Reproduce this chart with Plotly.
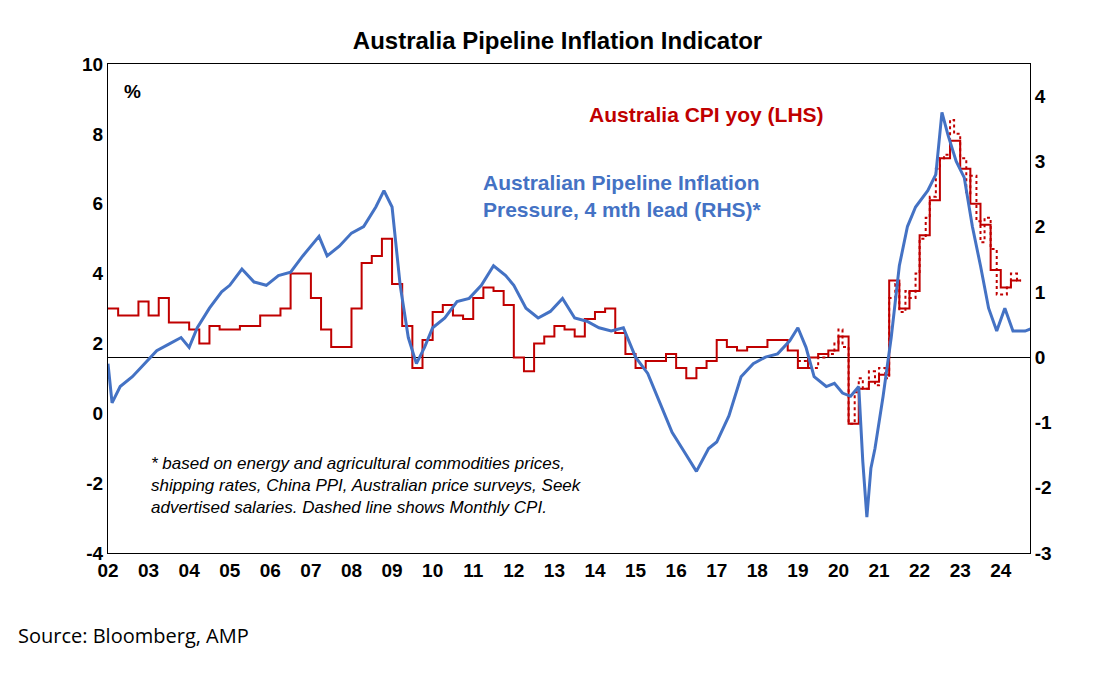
import plotly.graph_objects as go

# Quarterly CPI yoy (LHS), step line
cpi_x = [2002.0, 2002.25, 2002.5, 2002.75, 2003.0, 2003.25, 2003.5, 2003.75, 2004.0, 2004.25, 2004.5, 2004.75,
         2005.0, 2005.25, 2005.5, 2005.75, 2006.0, 2006.25, 2006.5, 2006.75, 2007.0, 2007.25, 2007.5, 2007.75,
         2008.0, 2008.25, 2008.5, 2008.75, 2009.0, 2009.25, 2009.5, 2009.75, 2010.0, 2010.25, 2010.5, 2010.75,
         2011.0, 2011.25, 2011.5, 2011.75, 2012.0, 2012.25, 2012.5, 2012.75, 2013.0, 2013.25, 2013.5, 2013.75,
         2014.0, 2014.25, 2014.5, 2014.75, 2015.0, 2015.25, 2015.5, 2015.75, 2016.0, 2016.25, 2016.5, 2016.75,
         2017.0, 2017.25, 2017.5, 2017.75, 2018.0, 2018.25, 2018.5, 2018.75, 2019.0, 2019.25, 2019.5, 2019.75,
         2020.0, 2020.25, 2020.5, 2020.75, 2021.0, 2021.25, 2021.5, 2021.75, 2022.0, 2022.25, 2022.5, 2022.75,
         2023.0, 2023.25, 2023.5, 2023.75, 2024.0, 2024.25, 2024.5]
cpi_y = [3.0, 2.8, 2.8, 3.2, 2.8, 3.3, 2.6, 2.6, 2.4, 2.0, 2.5, 2.4,
         2.4, 2.5, 2.5, 2.8, 2.8, 3.0, 4.0, 4.0, 3.3, 2.4, 1.9, 1.9,
         3.0, 4.3, 4.5, 5.0, 3.7, 2.5, 1.3, 2.1, 2.9, 3.1, 2.8, 2.7,
         3.3, 3.6, 3.5, 3.1, 1.6, 1.2, 2.0, 2.2, 2.5, 2.4, 2.2, 2.7,
         2.9, 3.0, 2.3, 1.7, 1.3, 1.5, 1.5, 1.7, 1.3, 1.0, 1.3, 1.5,
         2.1, 1.9, 1.8, 1.9, 1.9, 2.1, 2.1, 1.8, 1.3, 1.6, 1.7, 1.8,
         2.2, -0.3, 0.7, 0.9, 1.1, 3.8, 3.0, 3.5, 5.1, 6.1, 7.3, 7.8,
         7.0, 6.0, 5.4, 4.1, 3.6, 3.8, 3.8]

# Monthly CPI (LHS), dashed
mcpi_x = [2019.0, 2019.25, 2019.5, 2019.75, 2019.9, 2020.0, 2020.1, 2020.25, 2020.4, 2020.5, 2020.6, 2020.75,
          2020.9, 2021.0, 2021.15, 2021.25, 2021.4, 2021.5, 2021.65, 2021.75, 2021.9, 2022.0, 2022.15, 2022.25,
          2022.4, 2022.5, 2022.6, 2022.75, 2022.85, 2023.0, 2023.15, 2023.25, 2023.4, 2023.5, 2023.6, 2023.75,
          2023.9, 2024.0, 2024.15, 2024.25, 2024.4, 2024.5]
mcpi_y = [1.5, 1.3, 1.6, 1.7, 2.0, 2.4, 1.9, -0.3, 0.6, 1.0, 0.7, 1.2,
          0.8, 1.3, 1.0, 3.3, 3.7, 2.9, 3.5, 3.3, 4.0, 5.0, 5.6, 6.2,
          7.0, 7.3, 7.4, 8.4, 8.0, 7.3, 6.3, 6.8, 5.5, 4.9, 5.6, 4.7,
          3.4, 3.4, 3.6, 4.0, 3.8, 3.8]

# Pipeline inflation pressure (RHS), 4 mth lead
pipe_x = [2002.0, 2002.1, 2002.3, 2002.6, 2002.9, 2003.2, 2003.5, 2003.8, 2004.0, 2004.2, 2004.5, 2004.8,
          2005.0, 2005.3, 2005.6, 2005.9, 2006.2, 2006.5, 2006.8, 2007.0, 2007.2, 2007.4, 2007.7, 2008.0,
          2008.3, 2008.6, 2008.8, 2009.0, 2009.2, 2009.4, 2009.6, 2009.8, 2010.0, 2010.3, 2010.6, 2010.9,
          2011.2, 2011.5, 2011.8, 2012.0, 2012.3, 2012.6, 2012.9, 2013.2, 2013.5, 2013.8, 2014.1, 2014.4,
          2014.7, 2015.0, 2015.3, 2015.6, 2015.9, 2016.2, 2016.5, 2016.8, 2017.0, 2017.3, 2017.6, 2017.9,
          2018.2, 2018.5, 2018.8, 2019.0, 2019.2, 2019.4, 2019.7, 2019.9, 2020.1, 2020.3, 2020.5, 2020.6,
          2020.7, 2020.8, 2020.9, 2021.1, 2021.3, 2021.5, 2021.7, 2021.9, 2022.2, 2022.4, 2022.55, 2022.7,
          2022.9, 2023.1, 2023.3, 2023.5, 2023.7, 2023.9, 2024.1, 2024.3, 2024.6, 2024.8, 2024.9]
pipe_y = [-0.1, -0.7, -0.45, -0.3, -0.1, 0.1, 0.2, 0.3, 0.15, 0.45, 0.75, 1.0,
          1.1, 1.35, 1.15, 1.1, 1.25, 1.3, 1.55, 1.7, 1.85, 1.55, 1.7, 1.9,
          2.0, 2.3, 2.55, 2.3, 1.1, 0.3, -0.1, 0.15, 0.45, 0.6, 0.85, 0.9,
          1.1, 1.4, 1.25, 1.1, 0.75, 0.6, 0.7, 0.9, 0.6, 0.55, 0.45, 0.4,
          0.45, 0.0, -0.25, -0.7, -1.15, -1.45, -1.75, -1.4, -1.3, -0.9, -0.3, -0.1,
          0.0, 0.05, 0.25, 0.45, 0.15, -0.3, -0.45, -0.4, -0.55, -0.6, -0.45, -1.6,
          -2.45, -1.7, -1.4, -0.6, 0.3, 1.4, 2.0, 2.3, 2.55, 2.8, 3.75, 3.4,
          3.0, 2.75, 2.0, 1.4, 0.75, 0.4, 0.75, 0.4, 0.4, 0.45, 0.4]

years = list(range(2002, 2025))
year_labels = [f"{y % 100:02d}" for y in years]
lhs_ticks = [-4, -2, 0, 2, 4, 6, 8, 10]
rhs_ticks = [-3, -2, -1, 0, 1, 2, 3, 4]

RED = "#C00000"
BLUE = "#4472C4"

fig = go.Figure()
fig.add_trace(go.Scatter(x=cpi_x, y=cpi_y, mode="lines", line=dict(color=RED, width=2, shape="hv")))
fig.add_trace(go.Scatter(x=mcpi_x, y=mcpi_y, mode="lines",
                         line=dict(color=RED, width=2, dash="dot", shape="hv")))
fig.add_trace(go.Scatter(x=pipe_x, y=pipe_y, mode="lines", yaxis="y2",
                         line=dict(color=BLUE, width=3)))

tickfont = dict(family="Liberation Sans", size=19, color="black", weight="bold")
fig.update_layout(
    width=1099, height=678, showlegend=False,
    paper_bgcolor="white", plot_bgcolor="white",
    margin=dict(l=100, r=77, t=56, b=133),
    title=dict(text="<b>Australia Pipeline Inflation Indicator</b>", x=0.5, y=0.965,
               xanchor="center", font=dict(family="Liberation Sans", size=24, color="black")),
    xaxis=dict(range=[2002, 2024.72], tickvals=years, ticktext=year_labels,
               tickfont=tickfont, showgrid=False, zeroline=False, ticks="",
               showline=True, linecolor="black", mirror=True),
    yaxis=dict(range=[-4, 10], tickvals=lhs_ticks, ticktext=[str(v) for v in lhs_ticks],
               tickfont=tickfont, showgrid=False, zeroline=False,
               ticks="", showline=True, linecolor="black"),
    yaxis2=dict(range=[-3, 4.49], overlaying="y", side="right", tickvals=rhs_ticks,
                ticktext=[str(v) for v in rhs_ticks], tickfont=tickfont,
                showgrid=False, zeroline=True, zerolinecolor="black", zerolinewidth=1,
                ticks="", showline=True, linecolor="black"),
    font=dict(family="Liberation Sans"),
)

fig.add_annotation(text="<b>%</b>", xref="paper", yref="paper", x=0.015, y=0.97,
                   showarrow=False, font=dict(size=19, color="black"), xanchor="left")
fig.add_annotation(text="<b>Australia CPI yoy (LHS)</b>", xref="paper", yref="paper",
                   x=0.52, y=0.925, xanchor="left", showarrow=False, font=dict(size=21, color=RED))
fig.add_annotation(text="<b>Australian Pipeline Inflation<br>Pressure, 4 mth lead (RHS)*</b>",
                   xref="paper", yref="paper", x=0.405, y=0.73, xanchor="left", yanchor="middle",
                   align="left", showarrow=False, font=dict(size=21, color=BLUE))
fig.add_annotation(text="<i>* based on energy and agricultural commodities prices,<br>"
                        "shipping rates, China PPI, Australian price surveys, Seek<br>"
                        "advertised salaries. Dashed line shows Monthly CPI.</i>",
                   xref="paper", yref="paper", x=0.045, y=0.07, xanchor="left", yanchor="bottom",
                   align="left", showarrow=False, font=dict(size=17, color="black"))
fig.add_annotation(text="Source: Bloomberg, AMP", xref="paper", yref="paper", x=-0.1, y=-0.2,
                   xanchor="left", showarrow=False, font=dict(family="Open Sans", size=20, color="black"))

fig.write_html("out.html")
